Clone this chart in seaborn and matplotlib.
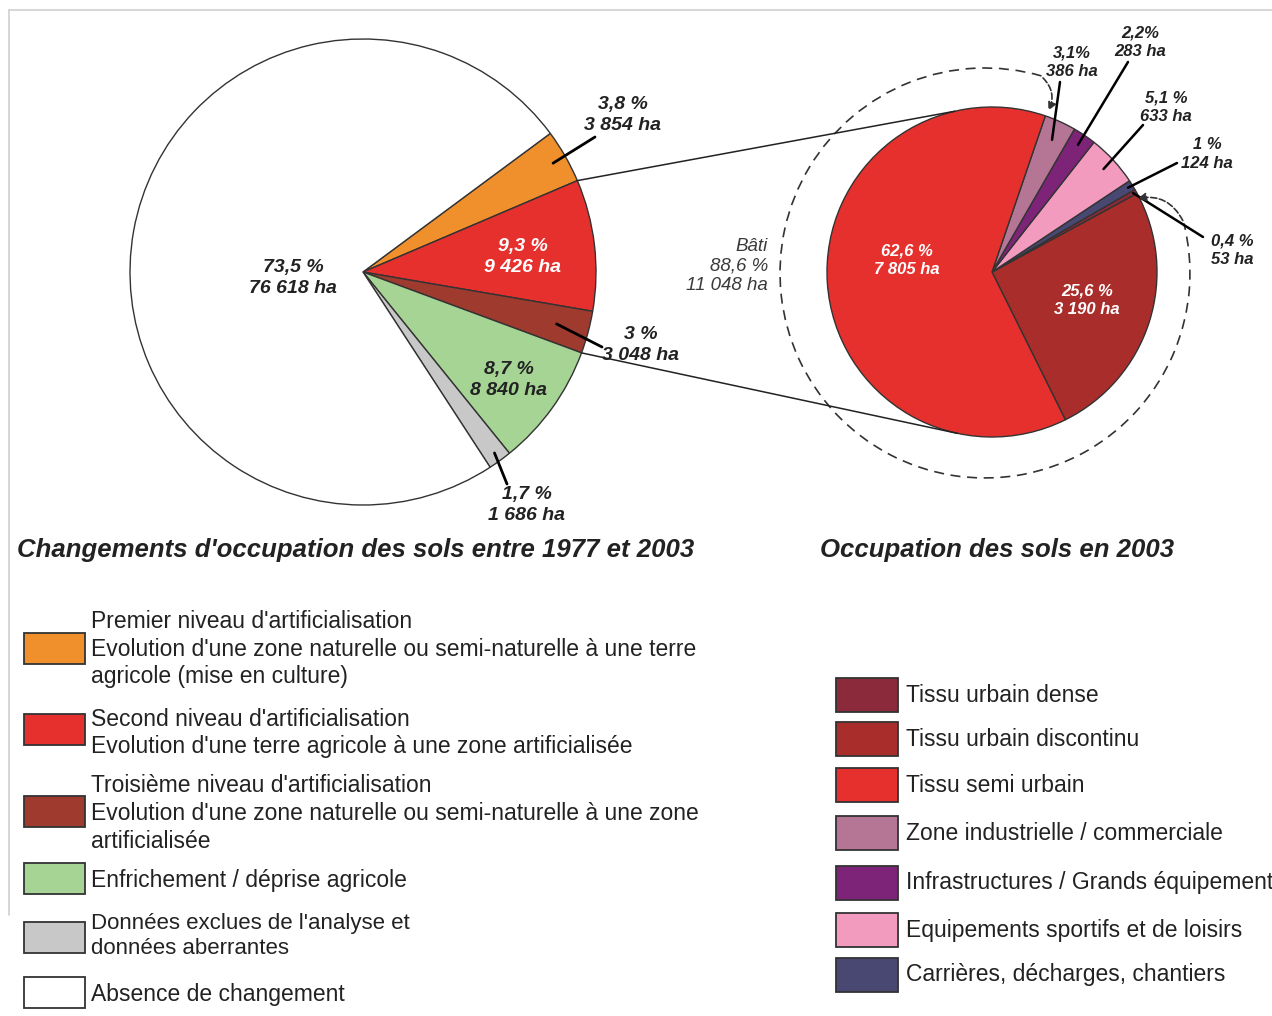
import numpy as np
import matplotlib.pyplot as plt
import seaborn as sns
from matplotlib.patches import Rectangle, Arc

# Changements d'occupation des sols 1977-2003 et occupation 2003

sns.set_theme(style="white")
plt.rcParams['font.family'] = ['Liberation Sans', 'DejaVu Sans']

# --- données : pie gauche (changements) ---
chg_ha = [3854, 9426, 3048, 8840, 1686, 76618]
chg_pct = ['3,8 %', '9,3 %', '3 %', '8,7 %', '1,7 %', '73,5 %']
chg_ha_txt = ['3 854 ha', '9 426 ha', '3 048 ha', '8 840 ha', '1 686 ha', '76 618 ha']
chg_colors = ['#F0902C', '#E5302D', '#9E3A2E', '#A6D495', '#C8C8C8', '#FFFFFF']
chg_legend = [
    ["Premier niveau d'artificialisation",
     "Evolution d'une zone naturelle ou semi-naturelle à une terre",
     "agricole (mise en culture)"],
    ["Second niveau d'artificialisation",
     "Evolution d'une terre agricole à une zone artificialisée"],
    ["Troisième niveau d'artificialisation",
     "Evolution d'une zone naturelle ou semi-naturelle à une zone",
     "artificialisée"],
    ["Enfrichement / déprise agricole"],
    ["Données exclues de l'analyse et", "données aberrantes"],
    ["Absence de changement"],
]

# --- données : pie droite (occupation 2003), ordre de la légende ---
occ_legend = ['Tissu urbain dense', 'Tissu urbain discontinu', 'Tissu semi urbain',
              'Zone industrielle / commerciale', 'Infrastructures / Grands équipement',
              'Equipements sportifs et de loisirs', 'Carrières, décharges, chantiers']
occ_ha = [53, 3190, 7805, 386, 283, 633, 124]
occ_pct = ['0,4 %', '25,6 %', '62,6 %', '3,1%', '2,2%', '5,1 %', '1 %']
occ_ha_txt = ['53 ha', '3 190 ha', '7 805 ha', '386 ha', '283 ha', '633 ha', '124 ha']
occ_colors = ['#8A2A3A', '#A92D2A', '#E5302D', '#B57594', '#7E2478', '#F39BBF', '#484872']
occ_order = [1, 0, 6, 5, 4, 3, 2]   # ordre des parts dans le camembert
bati_txt = 'Bâti\n88,6 %\n11 048 ha'

W, H = 1272, 1016
def Y(y):
    return H - y

fig = plt.figure(figsize=(12.72, 10.16), dpi=100)
ax = fig.add_axes([0, 0, 1, 1])

edge = dict(edgecolor='#333333', linewidth=1.0)

# camembert gauche
c1, r1 = (363, Y(272)), 233
w1, _ = ax.pie(chg_ha, colors=chg_colors, startangle=36.5, counterclock=False,
               center=c1, radius=r1, wedgeprops=edge)

# camembert droit
c2, r2 = (992, Y(272)), 165
w2, _ = ax.pie([occ_ha[i] for i in occ_order], colors=[occ_colors[i] for i in occ_order],
               startangle=-63.6, counterclock=True, center=c2, radius=r2, wedgeprops=edge)

def pt(c, r, ang, f=1.0):
    a = np.deg2rad(ang)
    return c[0] + f * r * np.cos(a), c[1] + f * r * np.sin(a)

def mid(w):
    return (w.theta1 + w.theta2) / 2

# lignes de zoom
p_a = pt(c1, r1, w1[1].theta2)
p_b = pt(c1, r1, w1[2].theta1)
q_a = pt(c2, r2, 103)
q_b = pt(c2, r2, -102)
ax.plot([p_a[0], q_a[0]], [p_a[1], q_a[1]], color='#222222', lw=1.1)
ax.plot([p_b[0], q_b[0]], [p_b[1], q_b[1]], color='#222222', lw=1.1)

lab = dict(fontsize=14, fontweight='bold', style='italic', ha='center', va='center',
           linespacing=1.25)

# étiquettes gauche
chg_pos = [(623, 115), (523, 257), (641, 345), (509, 380), (527, 505), (293, 278)]
chg_lead = [(0.94, (595, 137)), None, (0.86, (602, 347)), None, (0.96, (507, 484)), None]
chg_tcol = ['#222222', 'white', '#222222', '#222222', '#222222', '#222222']
for i, w in enumerate(w1):
    x, y = chg_pos[i]
    ax.text(x, Y(y), chg_pct[i] + '\n' + chg_ha_txt[i], color=chg_tcol[i], **lab)
    if chg_lead[i]:
        f, (ex, ey) = chg_lead[i]
        s = pt(c1, r1, mid(w), f)
        ax.plot([s[0], ex], [s[1], Y(ey)], color='black', lw=2)

# étiquettes droite
lab2 = dict(lab, fontsize=12, linespacing=1.3)
occ_pos = {0: (1232, 250), 1: (1087, 300), 2: (907, 260), 3: (1072, 62),
           4: (1140, 42), 5: (1166, 107), 6: (1207, 154)}
occ_lead = {0: (0.98, (1203, 237)), 3: (0.88, (1060, 82)), 4: (0.93, (1128, 62)),
            5: (0.92, (1143, 125)), 6: (0.97, (1177, 163))}
for k, w in zip(occ_order, w2):
    x, y = occ_pos[k]
    col = 'white' if k in (1, 2) else '#222222'
    ax.text(x, Y(y), occ_pct[k] + '\n' + occ_ha_txt[k], color=col, **lab2)
    if k in occ_lead:
        f, (ex, ey) = occ_lead[k]
        s = pt(c2, r2, mid(w), f)
        ax.plot([s[0], ex], [s[1], Y(ey)], color='black', lw=1.8)

# arc pointillé "Bâti"
dash = (0, (6, 4))
ax.add_patch(Arc((985, Y(273)), 410, 410, theta1=74, theta2=374, color='#333333',
                 lw=1.2, linestyle=dash))
ax.annotate('', xy=(1047, Y(113)), xytext=(1041, Y(76)),
            arrowprops=dict(arrowstyle='-|>', color='#333333', lw=1.2, linestyle='--',
                            connectionstyle='arc3,rad=-0.4', mutation_scale=12))
ax.annotate('', xy=(1135, Y(199)), xytext=(1184, Y(223)),
            arrowprops=dict(arrowstyle='-|>', color='#333333', lw=1.2, linestyle='--',
                            connectionstyle='arc3,rad=0.4', mutation_scale=12))
ax.text(768, Y(266), bati_txt, ha='right', va='center', fontsize=13.5, style='italic',
        color='#3a3a3a', linespacing=1.2)

# titres
ttl = dict(fontsize=18.5, fontweight='bold', style='italic', va='center', color='#222222')
ax.text(17, Y(550), "Changements d'occupation des sols entre 1977 et 2003", ha='left', **ttl)
ax.text(997, Y(550), "Occupation des sols en 2003", ha='center', **ttl)

# légende gauche
box_y = [648, 729, 811, 878, 937, 992]
line_y = [[621, 649, 676], [718, 745], [785, 813, 841], [880], [922, 947], [993]]
for i, lines in enumerate(chg_legend):
    ax.add_patch(Rectangle((24, Y(box_y[i]) - 15.5), 61, 31, facecolor=chg_colors[i],
                           edgecolor='#333333', lw=1.3))
    fs = 16 if i == 4 else 16.5
    for t, yy in zip(lines, line_y[i]):
        ax.text(91, Y(yy + 1), t, ha='left', va='center', fontsize=fs, color='#222222')

# légende droite
rbox_y = [695, 739, 785, 833, 883, 930, 975]
for i, t in enumerate(occ_legend):
    ax.add_patch(Rectangle((836, Y(rbox_y[i]) - 17), 62, 34, facecolor=occ_colors[i],
                           edgecolor='#333333', lw=1.3))
    ax.text(906, Y(rbox_y[i]), t, ha='left', va='center', fontsize=16.5, color='#222222')

# cadre léger
ax.plot([9, W], [Y(10), Y(10)], color='#d0d0d0', lw=1.2)
ax.plot([9, 9], [Y(10), Y(915)], color='#d0d0d0', lw=1.2)

ax.set_xlim(0, W)
ax.set_ylim(0, H)
ax.set_aspect('equal')
ax.axis('off')
fig.savefig('out.png', dpi=100, facecolor='white')
